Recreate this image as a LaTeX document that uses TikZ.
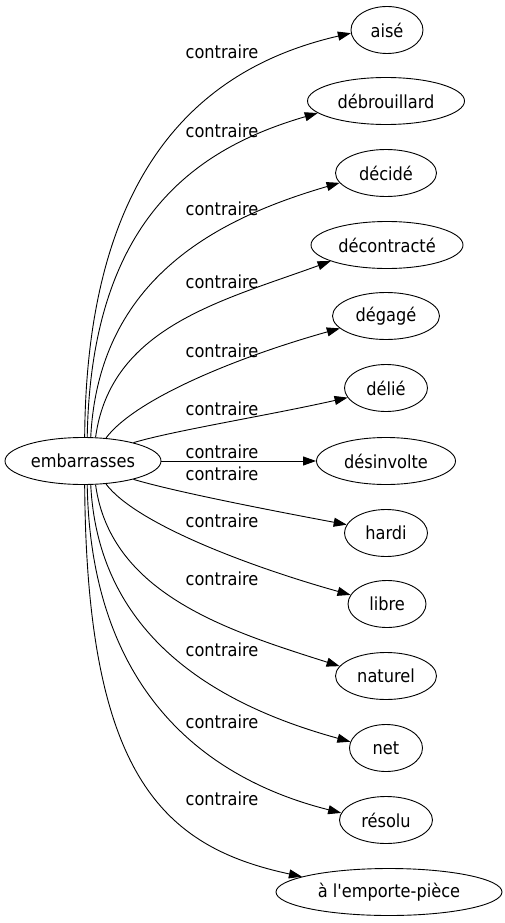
\documentclass[tikz,border=0pt]{standalone}
\usepackage{fontspec}
\setmainfont{DejaVu Sans Condensed}
\usetikzlibrary{arrows.meta,shapes.geometric}
\tikzset{
  word/.style={ellipse,draw,line width=0.9pt,minimum height=47pt,inner sep=0pt,font=\fontsize{18}{20}\selectfont},
  rel/.style={inner sep=0pt,font=\fontsize{18}{20}\selectfont},
  edge/.style={-{Triangle[length=13pt,width=9pt]},line width=0.9pt},
}
\begin{document}
\begin{tikzpicture}[x=1pt,y=-1pt]
\useasboundingbox (0,0) rectangle (504,923);
% source and targets
\node[word,minimum width=156pt] (src) at (83,461) {embarrasses};
\node[word,minimum width=72pt] (aise) at (387,30) {aisé};
\node[word,minimum width=157pt] (debrouillard) at (386,101) {débrouillard};
\node[word,minimum width=101pt] (decide) at (386,173) {décidé};
\node[word,minimum width=152pt] (decontracte) at (387,245) {décontracté};
\node[word,minimum width=107pt] (degage) at (386,316) {dégagé};
\node[word,minimum width=83pt] (delie) at (386,388) {délié};
\node[word,minimum width=139pt] (desinvolte) at (386,461) {désinvolte};
\node[word,minimum width=83pt] (hardi) at (386,533) {hardi};
\node[word,minimum width=78pt] (libre) at (387,604) {libre};
\node[word,minimum width=101pt] (naturel) at (386,676) {naturel};
\node[word,minimum width=73pt] (net) at (386,748) {net};
\node[word,minimum width=93pt] (resolu) at (386,820) {résolu};
\node[word,minimum width=226pt] (emporte) at (389,892) {à l\textquotesingle emporte-pièce};
% edges
\draw[edge] (src.86) .. controls +(2,-290) and +(-130,30) .. (aise.185);
\draw[edge] (src.80) .. controls +(4,-220) and +(-120,35) .. (debrouillard.190);
\draw[edge] (src.72) .. controls +(8,-160) and +(-120,35) .. (decide.192);
\draw[edge] (src.62) .. controls +(15,-110) and +(-110,40) .. (decontracte.196);
\draw[edge] (src.45) .. controls +(30,-40) and +(-100,28) .. (degage.195);
\draw[edge] (src.20) .. controls +(40,-12) and +(-80,18) .. (delie.194);
\draw[edge] (src.east) -- (desinvolte.west);
\draw[edge] (src.-20) .. controls +(40,12) and +(-80,-15) .. (hardi.168);
\draw[edge] (src.-45) .. controls +(30,40) and +(-100,-28) .. (libre.166);
\draw[edge] (src.-62) .. controls +(15,110) and +(-110,-35) .. (naturel.168);
\draw[edge] (src.-72) .. controls +(8,160) and +(-120,-33) .. (net.170);
\draw[edge] (src.-80) .. controls +(4,220) and +(-120,-30) .. (resolu.171);
\draw[edge] (src.-86) .. controls +(2,290) and +(-140,-30) .. (emporte.170);
% labels
\node[rel] (l1) at (222,52) {contraire};
\node[rel] (l2) at (222,131) {contraire};
\node[rel] (l3) at (222,209) {contraire};
\node[rel] (l4) at (222,282) {contraire};
\node[rel] (l5) at (222,351) {contraire};
\node[rel] (l6) at (222,409) {contraire};
\node[rel] (l7) at (222,452) {contraire};
\node[rel] (l8) at (222,474) {contraire};
\node[rel] (l9) at (222,521) {contraire};
\node[rel] (l10) at (222,579) {contraire};
\node[rel] (l11) at (222,650) {contraire};
\node[rel] (l12) at (222,722) {contraire};
\node[rel] (l13) at (222,799) {contraire};
\end{tikzpicture}
\end{document}
